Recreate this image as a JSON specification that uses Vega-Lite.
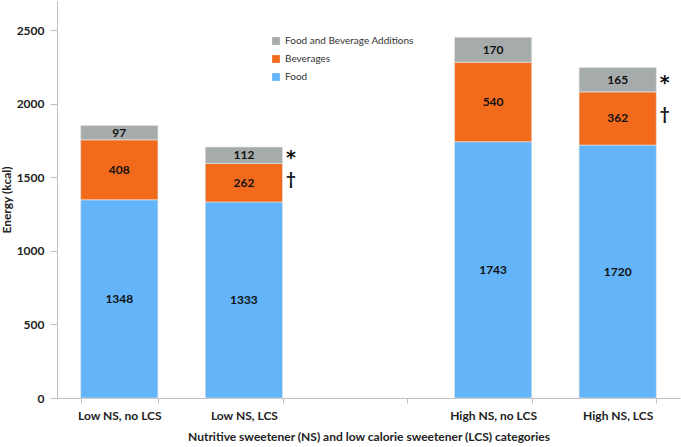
{
  "$schema": "https://vega.github.io/schema/vega-lite/v6.json",
  "autosize": {"type": "none"},
  "padding": {"left": 57, "top": 1, "right": 1, "bottom": 49},
  "width": 623,
  "height": 397,
  "background": "white",
  "config": {
    "font": "Lato",
    "view": {"stroke": null},
    "axis": {"grid": false, "domainColor": "#BFBFBF", "tickColor": "#BFBFBF", "labelColor": "#222", "titleColor": "#222", "labelFontWeight": "bold", "titleFontWeight": "bold", "labelFontSize": 12, "titleFontSize": 12}
  },
  "data": {
    "values": [
      {"cat": "Low NS, no LCS", "component": "Food", "kcal": 1348, "sig": ""},
      {"cat": "Low NS, no LCS", "component": "Beverages", "kcal": 408, "sig": ""},
      {"cat": "Low NS, no LCS", "component": "Food and Beverage Additions", "kcal": 97, "sig": ""},
      {"cat": "Low NS, LCS", "component": "Food", "kcal": 1333, "sig": ""},
      {"cat": "Low NS, LCS", "component": "Beverages", "kcal": 262, "sig": "†"},
      {"cat": "Low NS, LCS", "component": "Food and Beverage Additions", "kcal": 112, "sig": "*"},
      {"cat": "High NS, no LCS", "component": "Food", "kcal": 1743, "sig": ""},
      {"cat": "High NS, no LCS", "component": "Beverages", "kcal": 540, "sig": ""},
      {"cat": "High NS, no LCS", "component": "Food and Beverage Additions", "kcal": 170, "sig": ""},
      {"cat": "High NS, LCS", "component": "Food", "kcal": 1720, "sig": ""},
      {"cat": "High NS, LCS", "component": "Beverages", "kcal": 362, "sig": "†"},
      {"cat": "High NS, LCS", "component": "Food and Beverage Additions", "kcal": 165, "sig": "*"}
    ]
  },
  "transform": [
    {"calculate": "indexof(['Food','Beverages','Food and Beverage Additions'], datum.component)", "as": "rank"},
    {"stack": "kcal", "groupby": ["cat"], "sort": [{"field": "rank", "order": "ascending"}], "as": ["y0", "y1"]},
    {"calculate": "(datum.y0 + datum.y1) / 2", "as": "ymid"}
  ],
  "encoding": {
    "x": {
      "field": "cat", "type": "nominal",
      "scale": {"domain": ["Low NS, no LCS", "Low NS, LCS", " ", "High NS, no LCS", "High NS, LCS"], "paddingInner": 0.38, "paddingOuter": 0.19},
      "axis": {"title": "Nutritive sweetener (NS) and low calorie sweetener (LCS) categories", "labelAngle": 0, "tickBand": "extent", "tickSize": 5, "labelPadding": 7, "titlePadding": 10}
    }
  },
  "layer": [
    {
      "mark": {"type": "bar", "stroke": "#E8E8E8", "strokeWidth": 0.6},
      "encoding": {
        "y": {"field": "y0", "type": "quantitative", "scale": {"domain": [0, 2700], "nice": false}, "axis": {"title": "Energy (kcal)", "format": "d", "values": [0, 500, 1000, 1500, 2000, 2500], "tickSize": 7, "labelPadding": 6, "titlePadding": 3}},
        "y2": {"field": "y1"},
        "color": {
          "field": "component", "type": "nominal",
          "scale": {"domain": ["Food and Beverage Additions", "Beverages", "Food"], "range": ["#A6ACAB", "#F26B1D", "#63B4F8"]},
          "legend": {"title": null, "orient": "none", "legendX": 214, "legendY": 35, "symbolType": "square", "symbolSize": 60, "symbolStrokeWidth": 0, "labelFontSize": 10, "labelColor": "#333", "rowPadding": 8, "padding": 0}
        }
      }
    },
    {
      "mark": {"type": "text", "fontWeight": "bold", "fontSize": 12, "color": "#111"},
      "encoding": {
        "y": {"field": "ymid", "type": "quantitative"},
        "text": {"field": "kcal", "type": "quantitative"}
      }
    },
    {
      "transform": [{"filter": "datum.sig == '†'"}],
      "mark": {"type": "text", "fontWeight": "bold", "fontSize": 17, "color": "#111", "dx": 47, "dy": -3},
      "encoding": {
        "y": {"field": "ymid", "type": "quantitative"},
        "text": {"field": "sig", "type": "nominal"}
      }
    },
    {
      "transform": [{"filter": "datum.sig == '*'"}],
      "mark": {"type": "text", "font": "DejaVu Sans", "fontWeight": "bold", "fontSize": 19, "color": "#111", "dx": 47, "dy": 3},
      "encoding": {
        "y": {"field": "ymid", "type": "quantitative"},
        "text": {"field": "sig", "type": "nominal"}
      }
    }
  ]
}
